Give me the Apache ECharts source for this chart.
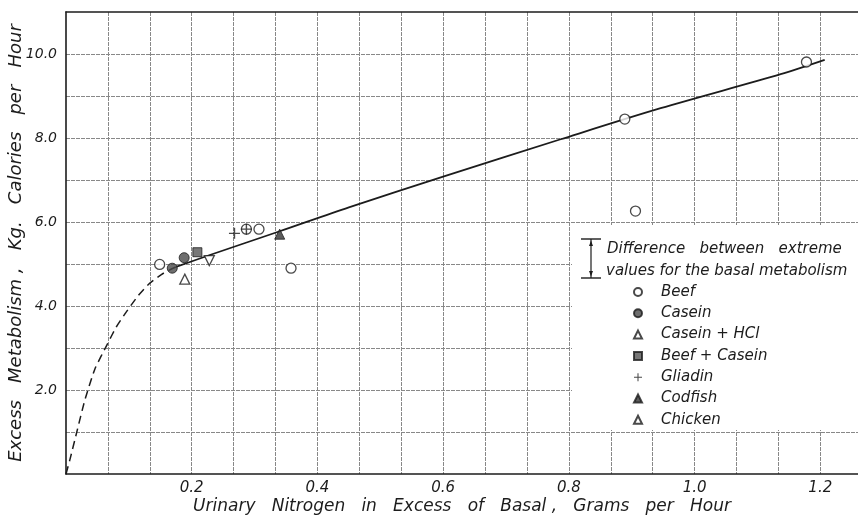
<!DOCTYPE html>
<html>
<head>
<meta charset="utf-8">
<script src="https://cdn.jsdelivr.net/npm/echarts@6/dist/echarts.min.js"></script>
<style>
html,body{margin:0;padding:0;background:#fff;}
#chart{width:858px;height:522px;}
</style>
</head>
<body>
<div id="chart"></div>
<script>
// ---- data (x: urinary N in excess of basal, g/h; y: excess metabolism, kg cal/h) ----
var beef        = [[0.149, 4.99], [0.287, 5.83], [0.307, 5.83], [0.358, 4.90], [0.906, 6.26], [0.889, 8.45], [1.178, 9.81]];
var casein      = [[0.169, 4.90], [0.188, 5.15]];
var caseinHCl   = [[0.189, 4.64]];
var beefCasein  = [[0.209, 5.28]];
var gliadin     = [[0.268, 5.73], [0.287, 5.83]];
var codfish     = [[0.340, 5.71]];
var chicken     = [[0.228, 5.08]];
var curveSolid  = [[0.175, 4.93], [0.23, 5.22], [0.34, 5.78], [0.45, 6.35], [0.6, 7.08], [0.787, 7.97], [0.946, 8.71], [1.137, 9.52], [1.207, 9.86]];
var curveDashed = [[0, 0], [0.006, 0.33], [0.018, 1.05], [0.030, 1.76], [0.046, 2.5], [0.065, 3.07], [0.08, 3.5], [0.096, 3.86], [0.115, 4.25], [0.133, 4.54], [0.155, 4.78], [0.175, 4.93]];
var xTickLabels = ['0.2', '0.4', '0.6', '0.8', '1.0', '1.2'];
var yTickLabels = ['2.0', '4.0', '6.0', '8.0', '10.0'];
var legendNames = ['Beef', 'Casein', 'Casein + HCl', 'Beef + Casein', 'Gliadin', 'Codfish', 'Chicken'];

var FONT = 'DejaVu Sans';
var INK = '#1c1c1c';
var plusPath = 'path://M4.35,0h1.3v4.35h4.35v1.3h-4.35v4.35h-1.3v-4.35h-4.35v-1.3h4.35z';

function openStyle() { return {color: '#fff', borderColor: INK, borderWidth: 1.3}; }
function fillStyle(c) { return {color: c, borderColor: INK, borderWidth: 1}; }

var chart = echarts.init(document.getElementById('chart'), null, {renderer: 'canvas'});

var option = {
  animation: false,
  backgroundColor: '#fff',
  grid: {left: 66, top: 12, right: 0, bottom: 48, containLabel: false, outerBoundsMode: 'none'},
  xAxis: [{
    type: 'value', min: 0, max: 1.26, interval: 1 / 15,
    axisLine: {show: true, lineStyle: {color: INK, width: 1.6}},
    axisTick: {show: false},
    splitLine: {show: true, showMinLine: false, showMaxLine: false, lineStyle: {color: '#888', width: 1, type: [4, 1]}},
    axisLabel: {
      margin: 7, fontFamily: FONT, fontStyle: 'italic', fontSize: 15, color: INK,
      formatter: function (v) {
        var k = Math.round(v * 15);
        if (k > 0 && k % 3 === 0) { return xTickLabels[k / 3 - 1] || ''; }
        return '';
      }
    },
    name: 'Urinary   Nitrogen   in   Excess   of   Basal ,   Grams   per   Hour',
    nameLocation: 'middle', nameGap: 24, nameMoveOverlap: false,
    nameTextStyle: {fontFamily: FONT, fontStyle: 'italic', fontSize: 17, color: INK}
  }, {
    type: 'value', position: 'top', min: 0, max: 1.26,
    axisLine: {show: true, lineStyle: {color: INK, width: 1.6}},
    axisTick: {show: false}, axisLabel: {show: false}, splitLine: {show: false}
  }],
  yAxis: {
    type: 'value', min: 0, max: 11, interval: 1,
    axisLine: {show: true, lineStyle: {color: INK, width: 1.6}},
    axisTick: {show: false},
    splitLine: {show: true, showMinLine: false, showMaxLine: false, lineStyle: {color: '#888', width: 1, type: [4, 1]}},
    axisLabel: {
      margin: 9, fontFamily: FONT, fontStyle: 'italic', fontSize: 14, color: INK,
      formatter: function (v) {
        var k = Math.round(v);
        if (k > 0 && k % 2 === 0) { return yTickLabels[k / 2 - 1] || ''; }
        return '';
      }
    },
    name: 'Excess   Metabolism ,   Kg.   Calories   per   Hour',
    nameLocation: 'middle', nameGap: 41, nameRotate: 90, nameMoveOverlap: false,
    nameTextStyle: {fontFamily: FONT, fontStyle: 'italic', fontSize: 18, color: INK}
  },
  legend: {
    data: legendNames,
    orient: 'vertical', left: 633, top: 284,
    padding: 0, itemGap: 5.3, itemWidth: 8, itemHeight: 8,
    selectedMode: false,
    textStyle: {fontFamily: FONT, fontStyle: 'italic', fontSize: 15, color: INK, lineHeight: 16, padding: [0, 0, 0, 14]}
  },
  graphic: [
    {type: 'rect', z: 1, shape: {x: 572, y: 225, width: 290, height: 205}, style: {fill: '#fff'}},
    {type: 'line', z: 5, shape: {x1: 591, y1: 239, x2: 591, y2: 278}, style: {stroke: INK, lineWidth: 1.2}},
    {type: 'line', z: 5, shape: {x1: 581, y1: 239, x2: 601, y2: 239}, style: {stroke: INK, lineWidth: 1.4}},
    {type: 'line', z: 5, shape: {x1: 581, y1: 278, x2: 601, y2: 278}, style: {stroke: INK, lineWidth: 1.4}},
    {type: 'polygon', z: 5, shape: {points: [[591, 240.5], [589, 246], [593, 246]]}, style: {fill: INK}},
    {type: 'polygon', z: 5, shape: {points: [[591, 276.5], [589, 271], [593, 271]]}, style: {fill: INK}},
    {type: 'text', z: 5, style: {x: 607, y: 249, text: 'Difference   between   extreme', fontFamily: FONT, fontStyle: 'italic', fontSize: 15, fill: INK, verticalAlign: 'middle'}},
    {type: 'text', z: 5, style: {x: 606, y: 271, text: 'values for the basal metabolism', fontFamily: FONT, fontStyle: 'italic', fontSize: 15, fill: INK, verticalAlign: 'middle'}}
  ],
  series: [
    {type: 'line', data: curveDashed, smooth: 0.2, showSymbol: false, symbol: 'none', z: 3,
     lineStyle: {color: INK, width: 1.5, type: [8, 5]}, silent: true},
    {type: 'line', data: curveSolid, smooth: 0.3, showSymbol: false, symbol: 'none', z: 3,
     lineStyle: {color: INK, width: 1.8}, silent: true},
    {name: 'Beef', type: 'scatter', data: beef, symbol: 'circle', symbolSize: 10, itemStyle: openStyle(), z: 4},
    {name: 'Casein', type: 'scatter', data: casein, symbol: 'circle', symbolSize: 10, itemStyle: fillStyle('#4a4a4a'), z: 4},
    {name: 'Casein + HCl', type: 'scatter', data: caseinHCl, symbol: 'triangle', symbolSize: 10, itemStyle: openStyle(), z: 4},
    {name: 'Beef + Casein', type: 'scatter', data: beefCasein, symbol: 'rect', symbolSize: 9, itemStyle: fillStyle('#555'), z: 4},
    {name: 'Gliadin', type: 'scatter', data: gliadin, symbol: plusPath, symbolSize: 11, itemStyle: {color: INK}, z: 5},
    {name: 'Codfish', type: 'scatter', data: codfish, symbol: 'triangle', symbolSize: 10, itemStyle: fillStyle('#333'), z: 4},
    {name: 'Chicken', type: 'scatter', data: chicken, symbol: 'triangle', symbolRotate: 180, symbolSize: 10, itemStyle: openStyle(), z: 4}
  ]
};
chart.setOption(option);
</script>
</body>
</html>
